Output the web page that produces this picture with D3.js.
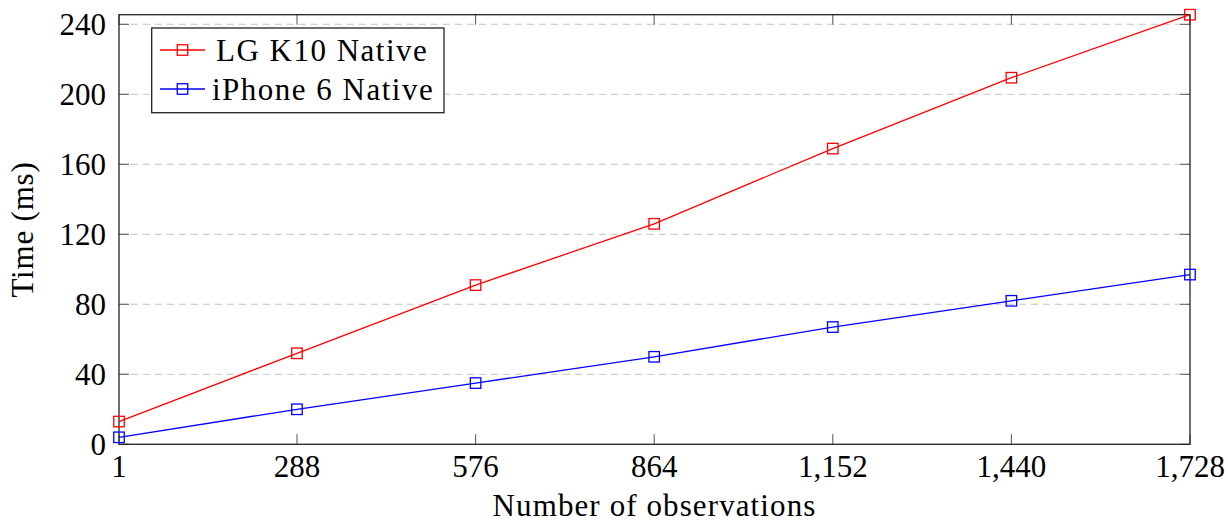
<!DOCTYPE html>
<html><head><meta charset="utf-8">
<script src="https://cdn.jsdelivr.net/npm/d3@7"></script>
<style>body{margin:0;background:#fff}svg{display:block}</style>
</head><body>
<svg id="c" width="1228" height="522"></svg>
<script>
const observations = [1, 288, 576, 864, 1152, 1440, 1728];
const lgK10 = [13, 52, 91, 126, 169, 209.5, 245.5];
const iphone6 = [4, 20, 35, 50, 67, 82, 97];
const seriesNames = ["LG K10 Native", "iPhone 6 Native"];
const yTicks = [0, 40, 80, 120, 160, 200, 240];
const xTicks = [1, 288, 576, 864, 1152, 1440, 1728];

const svg = d3.select("#c");
const L = 119, R = 1190, T = 14.7, B = 444.3;
const x = d3.scaleLinear().domain([1, 1728]).range([L, R]);
const y = d3.scaleLinear().domain([0, 245.5]).range([B, T]);
const font = "'Liberation Serif', 'Times New Roman', serif";
const fs = 31;

// grid
svg.append("g").selectAll("line").data(yTicks.filter(d => d > 0)).join("line")
  .attr("x1", L).attr("x2", R).attr("y1", d => y(d)).attr("y2", d => y(d))
  .attr("stroke", "#c4c4c4").attr("stroke-width", 1.1).attr("stroke-dasharray", "7,5");

// ticks (inside, on all sides)
const tl = 10;
const tg = svg.append("g").attr("stroke", "#606060").attr("stroke-width", 1.1);
xTicks.forEach(v => {
  tg.append("line").attr("x1", x(v)).attr("x2", x(v)).attr("y1", B).attr("y2", B - tl);
  tg.append("line").attr("x1", x(v)).attr("x2", x(v)).attr("y1", T).attr("y2", T + tl);
});
yTicks.forEach(v => {
  tg.append("line").attr("x1", L).attr("x2", L + tl).attr("y1", y(v)).attr("y2", y(v));
  tg.append("line").attr("x1", R).attr("x2", R - tl).attr("y1", y(v)).attr("y2", y(v));
});

// frame
svg.append("rect").attr("x", L).attr("y", T).attr("width", R - L).attr("height", B - T)
  .attr("fill", "none").attr("stroke", "#222").attr("stroke-width", 1.3);

// tick labels
const fmt = d3.format(",");
svg.append("g").selectAll("text").data(xTicks).join("text")
  .attr("x", d => x(d)).attr("y", 477).attr("text-anchor", "middle")
  .attr("font-family", font).attr("font-size", fs).text(d => fmt(d));
svg.append("g").selectAll("text").data(yTicks).join("text")
  .attr("x", 106).attr("y", d => y(d) + 10.5).attr("text-anchor", "end")
  .attr("font-family", font).attr("font-size", fs).text(d => d);

// axis labels
svg.append("text").attr("x", (L + R) / 2).attr("y", 516).attr("text-anchor", "middle")
  .attr("font-family", font).attr("font-size", fs).attr("letter-spacing", 1.1).text("Number of observations");
svg.append("text").attr("transform", `translate(33,${(T + B) / 2}) rotate(-90)`)
  .attr("text-anchor", "middle").attr("font-family", font).attr("font-size", fs)
  .attr("letter-spacing", 0.8).text("Time (ms)");

// series
const series = [
  { name: seriesNames[0], values: lgK10, color: "#ff0000" },
  { name: seriesNames[1], values: iphone6, color: "#0000ff" }
];
const line = d3.line().x((d, i) => x(observations[i])).y(d => y(d));
const ms = 10.5;
series.forEach(s => {
  svg.append("path").attr("d", line(s.values)).attr("fill", "none")
    .attr("stroke", s.color).attr("stroke-width", 1.3);
  svg.append("g").selectAll("rect").data(s.values).join("rect")
    .attr("x", (d, i) => x(observations[i]) - ms / 2).attr("y", d => y(d) - ms / 2)
    .attr("width", ms).attr("height", ms).attr("fill", "none")
    .attr("stroke", s.color).attr("stroke-width", 1.3);
});

// legend
const lg = svg.append("g");
lg.append("rect").attr("x", 151.7).attr("y", 28).attr("width", 292.3).attr("height", 84.7)
  .attr("fill", "#fff").attr("stroke", "#222").attr("stroke-width", 1.3);
series.forEach((s, i) => {
  const cy = 50 + i * 39;
  lg.append("line").attr("x1", 160).attr("x2", 205).attr("y1", cy).attr("y2", cy)
    .attr("stroke", s.color).attr("stroke-width", 1.3);
  lg.append("rect").attr("x", 182.5 - ms / 2).attr("y", cy - ms / 2).attr("width", ms).attr("height", ms)
    .attr("fill", "none").attr("stroke", s.color).attr("stroke-width", 1.3);
  lg.append("text").attr("x", i === 0 ? 216 : 212).attr("y", cy + 10.5)
    .attr("font-family", font).attr("font-size", fs).attr("letter-spacing", 1.5).text(s.name);
});
</script>
</body></html>
